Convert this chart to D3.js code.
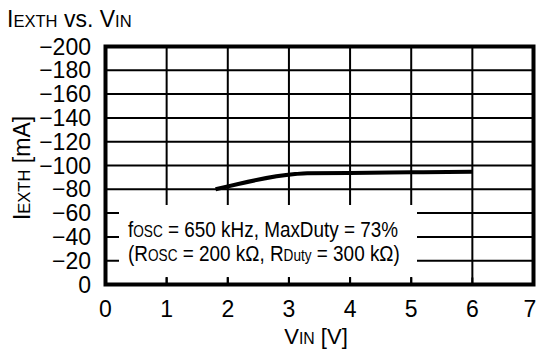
<!DOCTYPE html>
<html><head><meta charset="utf-8">
<script src="https://cdn.jsdelivr.net/npm/d3@7"></script>
<style>
html,body{margin:0;padding:0;background:#fff;}
svg text{font-family:"Liberation Sans",Arial,sans-serif;fill:#000;}
</style></head>
<body>
<svg id="c" width="539" height="353"></svg>
<script>
const vin = [1.8, 3.1, 3.3, 4.0, 5.0, 6.0];
const iexth = [-80, -92.8, -93.5, -93.8, -94.3, -94.8];
const xTicks = [0, 1, 2, 3, 4, 5, 6, 7];
const yTicks = [0, -20, -40, -60, -80, -100, -120, -140, -160, -180, -200];

const svg = d3.select("#c");
const L = 105.5, R = 533.5, T = 46.5, B = 284.5;
const x = d3.scaleLinear().domain([0, 7]).range([L, R]);
const y = d3.scaleLinear().domain([0, -200]).range([B, T]);
const FS = 23;
const AFS = 22;

// grid
const g = svg.append("g");
g.selectAll(".vg").data(xTicks.slice(1, -1)).join("line")
  .attr("x1", d => x(d)).attr("x2", d => x(d)).attr("y1", T).attr("y2", B)
  .attr("stroke", "#000").attr("stroke-width", 2);
g.selectAll(".hg").data(yTicks.slice(1, -1)).join("line")
  .attr("x1", L).attr("x2", R).attr("y1", d => y(d)).attr("y2", d => y(d))
  .attr("stroke", "#000").attr("stroke-width", 2);

// annotation box (white, covers the grid)
svg.append("rect").attr("x", 119).attr("y", 205).attr("width", 298).attr("height", 72)
  .attr("fill", "#fff");
// bottom inward ticks
svg.selectAll(".bt").data(xTicks.slice(1, -1)).join("line")
  .attr("x1", d => x(d)).attr("x2", d => x(d)).attr("y1", B - 7).attr("y2", B)
  .attr("stroke", "#000").attr("stroke-width", 2);

// frame
svg.append("rect").attr("x", L).attr("y", T).attr("width", R - L).attr("height", B - T)
  .attr("fill", "none").attr("stroke", "#000").attr("stroke-width", 4);

// curve
const pts = vin.map((v, i) => [v, iexth[i]]);
svg.append("path").datum(pts)
  .attr("d", d3.line().x(d => x(d[0])).y(d => y(d[1])).curve(d3.curveMonotoneX))
  .attr("fill", "none").attr("stroke", "#000").attr("stroke-width", 4);

// axes labels
const fmt = d => d === 0 ? "0" : "\u2212" + Math.abs(d);
svg.selectAll(".yl").data(yTicks).join("text")
  .attr("x", 91).attr("y", d => y(d)).attr("dy", "0.35em")
  .attr("text-anchor", "end").attr("font-size", FS).text(fmt);
svg.selectAll(".xl").data(xTicks).join("text")
  .attr("x", d => Math.min(x(d), 530)).attr("y", 317)
  .attr("text-anchor", "middle").attr("font-size", FS).text(d => d);

function sub(sel, parts, fs) {
  parts.forEach(p => {
    const t = sel.append("tspan").text(p[0]);
    if (p[1]) t.attr("font-size", fs * 0.72);
  });
}
// x title
sub(svg.append("text").attr("x", 316).attr("y", 344).attr("text-anchor", "middle").attr("font-size", 22),
  [["V"], ["IN", 1], [" [V]"]], 22);
// y title
sub(svg.append("text").attr("transform", "translate(30,168) rotate(-90)").attr("text-anchor", "middle").attr("font-size", FS),
  [["I"], ["EXTH", 1], [" [mA]"]], FS);
// chart title
sub(svg.append("text").attr("x", 7).attr("y", 27).attr("font-size", FS),
  [["I"], ["EXTH", 1], [" vs. V"], ["IN", 1]], FS);

// annotation (slightly condensed like the original)
sub(svg.append("text").attr("transform", "translate(128,237) scale(0.86,1)").attr("font-size", AFS),
  [["f"], ["OSC", 1], [" = 650 kHz, MaxDuty = 73%"]], AFS);
sub(svg.append("text").attr("transform", "translate(128,261) scale(0.86,1)").attr("font-size", AFS),
  [["(R"], ["OSC", 1], [" = 200 k\u03A9, R"], ["Duty", 1], [" = 300 k\u03A9)"]], AFS);
</script>
</body></html>
